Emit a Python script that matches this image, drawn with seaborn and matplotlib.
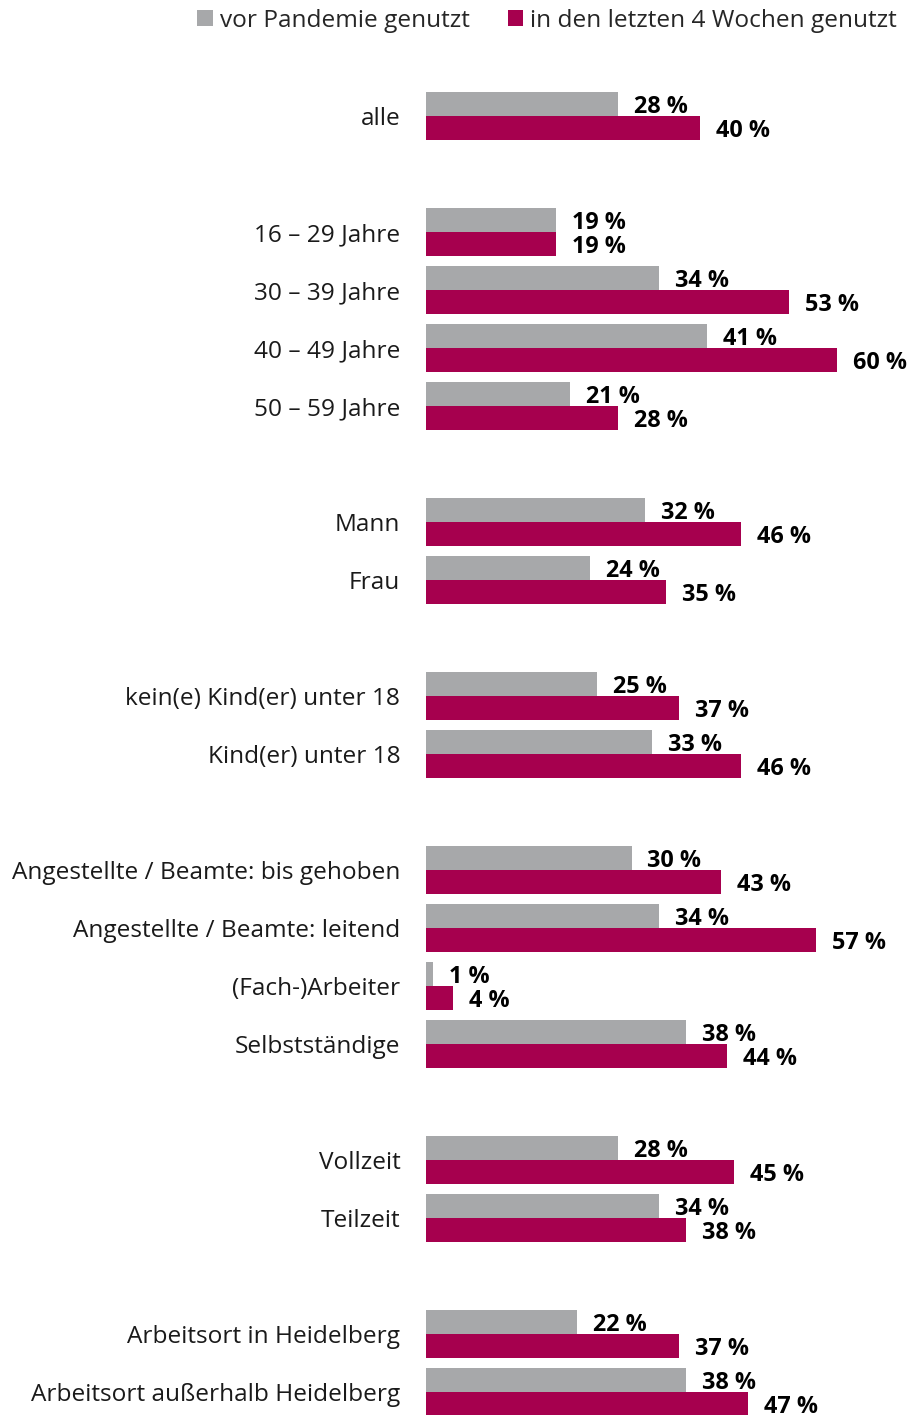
import pandas as pd
import seaborn as sns
import matplotlib.pyplot as plt
from matplotlib.patches import Patch

# DATEN

gruppen = ['alle', '_g1',
           '16 – 29 Jahre', '30 – 39 Jahre', '40 – 49 Jahre', '50 – 59 Jahre', '_g2',
           'Mann', 'Frau', '_g3',
           'kein(e) Kind(er) unter 18', 'Kind(er) unter 18', '_g4',
           'Angestellte / Beamte: bis gehoben', 'Angestellte / Beamte: leitend',
           '(Fach-)Arbeiter', 'Selbstständige', '_g5',
           'Vollzeit', 'Teilzeit', '_g6',
           'Arbeitsort in Heidelberg', 'Arbeitsort außerhalb Heidelberg']

kategorien = [g for g in gruppen if not g.startswith('_')]
vor_pandemie = [28, 19, 34, 41, 21, 32, 24, 25, 33, 30, 34, 1, 38, 28, 34, 22, 38]
letzte_4_wochen = [40, 19, 53, 60, 28, 46, 35, 37, 46, 43, 57, 4, 44, 45, 38, 37, 47]

serien = ['vor Pandemie genutzt', 'in den letzten 4 Wochen genutzt']
farben = ['#A7A8AA', '#A6004E']

df = pd.DataFrame({
    'Kategorie': kategorien * 2,
    'Serie': [serien[0]] * len(kategorien) + [serien[1]] * len(kategorien),
    'Wert': vor_pandemie + letzte_4_wochen,
})

sns.set_style('white')
plt.rcParams['font.family'] = ['Open Sans', 'DejaVu Sans']

fig = plt.figure(figsize=(9.07, 14.15), dpi=100)
ax = fig.add_axes([426 / 907, 0, 481 / 907, 1])

sns.barplot(data=df, y='Kategorie', x='Wert', hue='Serie', order=gruppen,
            hue_order=serien, palette=farben, width=0.83, orient='h',
            saturation=1, legend=False, linewidth=0, ax=ax)

for cont in ax.containers:
    labels = ax.bar_label(cont, fmt='{:.0f} %', padding=11.5, fontsize=16.8,
                          fontweight='bold', color='black')
    for t in labels:
        x0, y0 = t.xyann
        t.xyann = (x0, y0 - 2.2)

ax.set_xlim(0, 481 / 6.85)
ax.set_ylim((1415 - 116) / 58, -116 / 58)

pos = [i for i, g in enumerate(gruppen) if not g.startswith('_')]
ax.set_yticks(pos)
ax.set_yticklabels(kategorien, fontsize=17.6, color='#1a1a1a')
ax.tick_params(axis='y', length=0, pad=18.5)
ax.set_xticks([])
ax.set_xlabel('')
ax.set_ylabel('')
sns.despine(ax=ax, left=True, bottom=True)

handles = [Patch(facecolor=f, edgecolor='none') for f in farben]
fig.legend(handles, serien, loc='upper right', bbox_to_anchor=(1.005, 1.004),
           ncol=2, frameon=False, fontsize=17.6, handlelength=0.62, handleheight=0.62,
           handletextpad=0.3, columnspacing=1.55, borderaxespad=0.2)

plt.savefig('out.png', dpi=100)
